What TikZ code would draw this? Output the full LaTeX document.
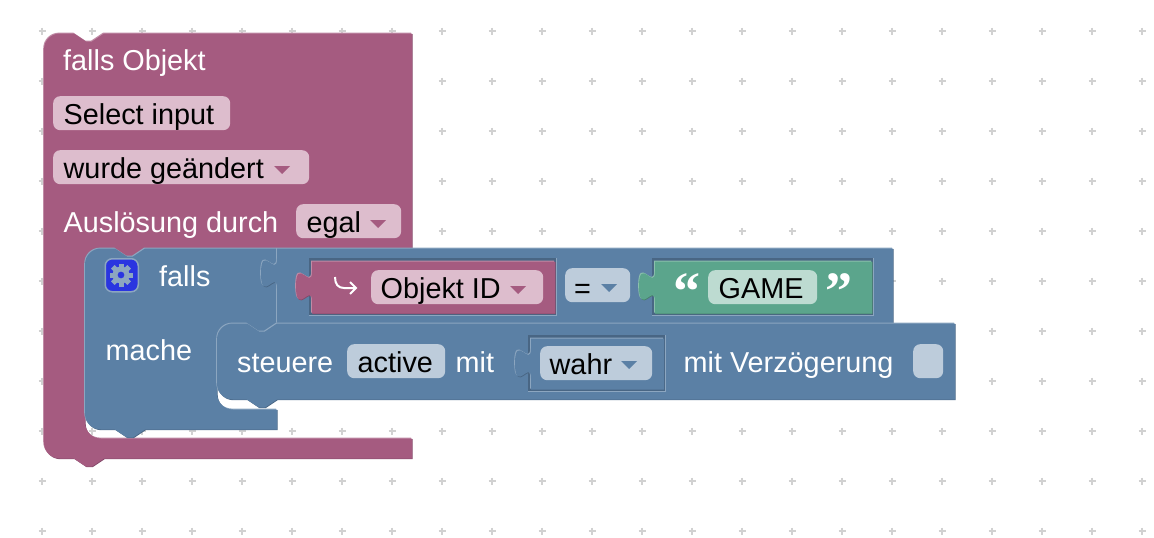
\documentclass[tikz,border=0pt]{standalone}
\usepackage{fontspec}
\setmainfont{Liberation Sans}
\newfontfamily\quotefont{Liberation Serif}
\definecolor{pmain}{HTML}{A55B80}
\definecolor{plight}{HTML}{C08CA6}
\definecolor{pdark}{HTML}{84496A}
\definecolor{pfield}{HTML}{DDBDCD}
\definecolor{bmain}{HTML}{5B80A5}
\definecolor{blight}{HTML}{8CA6C0}
\definecolor{bdark}{HTML}{496684}
\definecolor{bfield}{HTML}{BDCCDB}
\definecolor{gmain}{HTML}{5BA58C}
\definecolor{glight}{HTML}{8CC0AD}
\definecolor{gdark}{HTML}{497F6B}
\definecolor{gfield}{HTML}{BDDBD1}
\definecolor{gearblue}{HTML}{2A35E0}
\newcommand{\bevelblock}[2]{
\fill[#1dark,shift={(0.6,1.2)}] #2;
\fill[#1light,shift={(-0.8,-0.4)}] #2;
\fill[#1main,shift={(0,0.5)}] #2;
}
\newcommand{\slotframe}[4]{
\fill[blight] (#1,#2) rectangle (#3,#4);
\fill[bdark] (#1,#2) rectangle (#3-1.5,#4-1.5);
}
\newcommand{\ddown}[3]{
\fill[#3] (#1,#2) -- (#1+16,#2) -- (#1+8,#2+8) -- cycle;
}
\newcommand{\tabup}[2]{-- (#1,#2+30) .. controls (#1,#2+10) and (#1-16,#2+46) .. (#1-16,#2+15) .. controls (#1-16,#2-16) and (#1,#2+20) .. (#1,#2)}
\tikzset{
  lbl/.style={anchor=base west,inner sep=0pt,font=\fontsize{28.8}{34}\selectfont},
  wlbl/.style={lbl,text=white},
  pbox/.style={anchor=north west,inner sep=0pt,rounded corners=7pt,fill=pfield,minimum height=34pt},
  bbox/.style={pbox,fill=bfield},
  gbox/.style={pbox,fill=gfield},
  quotemark/.style={anchor=base west,inner sep=0pt,text=white,font=\quotefont\bfseries\fontsize{54}{54}\selectfont},
}
\begin{document}
\begin{tikzpicture}[x=1pt,y=-1pt]
\useasboundingbox (0,0) rectangle (1154,538);
\foreach \gx in {42,92,...,1142}
  \foreach \gy in {31,81,...,531}
    \draw[black!18,line width=1.5pt] (\gx-3.5,\gy) -- (\gx+3.5,\gy) (\gx,\gy-3.5) -- (\gx,\gy+3.5);

\bevelblock{p}{(44,49) .. controls (44,40) and (51,33) .. (60,33) -- (74,33) -- (86,41) -- (92,41) -- (104,33) -- (412,33) -- (412,248) -- (145,248) -- (133,256) -- (127,256) -- (115,248) -- (101,248) .. controls (92,248) and (85,255) .. (85,264) -- (85,422) .. controls (85,431) and (92,438) .. (101,438) -- (412,438) -- (412,458) -- (104,458) -- (92,466) -- (86,466) -- (74,458) -- (60,458) .. controls (51,458) and (44,451) .. (44,442) -- cycle}

\node (trigger) [wlbl] at (63,70) {falls Objekt};
\node (selectbox) [pbox,minimum width=177pt] at (53,96) {};
\node (selecttext) [lbl] at (63.5,124) {Select input};
\node (changebox) [pbox,minimum width=256pt] at (53,150) {};
\node (changetext) [lbl] at (63.5,178) {wurde geändert};
\ddown{274}{166}{pmain}
\node (causetext) [wlbl] at (63.5,232) {Auslösung durch};
\node (causebox) [pbox,minimum width=105pt] at (296,204) {};
\node (egaltext) [lbl] at (306.5,232) {egal};
\ddown{370}{220}{pmain}

\bevelblock{b}{(85,264) .. controls (85,255) and (92,248) .. (101,248) -- (115,248) -- (127,256) -- (133,256) -- (145,248) -- (277,248) -- (277,323) -- (277,323) -- (265,331) -- (259,331) -- (247,323) -- (233,323) .. controls (224,323) and (217,330) .. (217,339) -- (217,393) .. controls (217,402) and (224,409) .. (233,409) -- (277,409) -- (277,429) -- (145,429) -- (133,437) -- (127,437) -- (115,429) -- (101,429) .. controls (92,429) and (85,422) .. (85,413) -- cycle}

\node (gearbox) [anchor=north west,inner sep=0pt,rounded corners=7pt,fill=gearblue,draw=blight,line width=1.5pt,minimum width=33pt,minimum height=33pt] at (104.5,258) {};
\foreach \ang in {0,45,...,315}
  \fill[blight,rotate around={\ang:(121,275)}] (118.5,263.5) rectangle (123.5,270);
\fill[blight,even odd rule] (121,275) circle (8.5pt) (121,275) circle (3.5pt);
\node (ifm) [wlbl] at (159,286) {falls};
\node (thenm) [wlbl] at (105.5,360) {mache};

\bevelblock{b}{(277,248) -- (893,248) -- (893,323) -- (277,323) \tabup{277}{258} -- cycle}

\slotframe{309}{258}{557}{316}
\bevelblock{p}{(312,261) -- (555,261) -- (555,313) -- (312,313) \tabup{312}{271} -- cycle}
\draw[white,line width=2pt] (335,277) .. controls (335,284) and (338,288) .. (344,288) -- (356,288) (350,282) -- (356,288) -- (350,294);
\node (idbox) [pbox,minimum width=172pt] at (371,270) {};
\node (idtext) [lbl] at (380.5,298) {Objekt ID};
\ddown{510}{286}{pmain}

\node (eqbox) [bbox,minimum width=65pt] at (565,268) {};
\node (eqtext) [lbl] at (574,298) {=};
\ddown{601}{284}{bmain}

\slotframe{652}{258}{874}{316}
\bevelblock{g}{(655,261) -- (872,261) -- (872,313) -- (655,313) \tabup{655}{271} -- cycle}
\node (openq) [quotemark] at (673,309) {“};
\node (closeq) [quotemark] at (825,309) {”};
\node (gamebox) [gbox,minimum width=109pt] at (708,270) {};
\node (gametext) [lbl] at (718.5,298) {GAME};

\bevelblock{b}{(217,339) .. controls (217,330) and (224,323) .. (233,323) -- (247,323) -- (259,331) -- (265,331) -- (277,323) -- (955,323) -- (955,399) -- (277,399) -- (265,407) -- (259,407) -- (247,399) -- (233,399) .. controls (224,399) and (217,392) .. (217,383) -- cycle}

\node (steuer) [wlbl] at (237,372) {steuere};
\node (activebox) [bbox,minimum width=98pt] at (347,344) {};
\node (activetext) [lbl] at (357.5,372) {active};
\node (withm) [wlbl] at (455.5,372) {mit};

\slotframe{528}{335}{666}{392}
\bevelblock{b}{(531,338) -- (664,338) -- (664,389) -- (531,389) \tabup{531}{348} -- cycle}
\node (wahrbox) [bbox,minimum width=112pt] at (540,346) {};
\node (wahrtext) [lbl] at (549.5,374) {wahr};
\ddown{621}{361}{bmain}
\node (delaym) [wlbl] at (683.5,372) {mit Verzögerung};
\node (delaybox) [bbox,minimum width=30pt] at (913,344) {};
\end{tikzpicture}
\end{document}
